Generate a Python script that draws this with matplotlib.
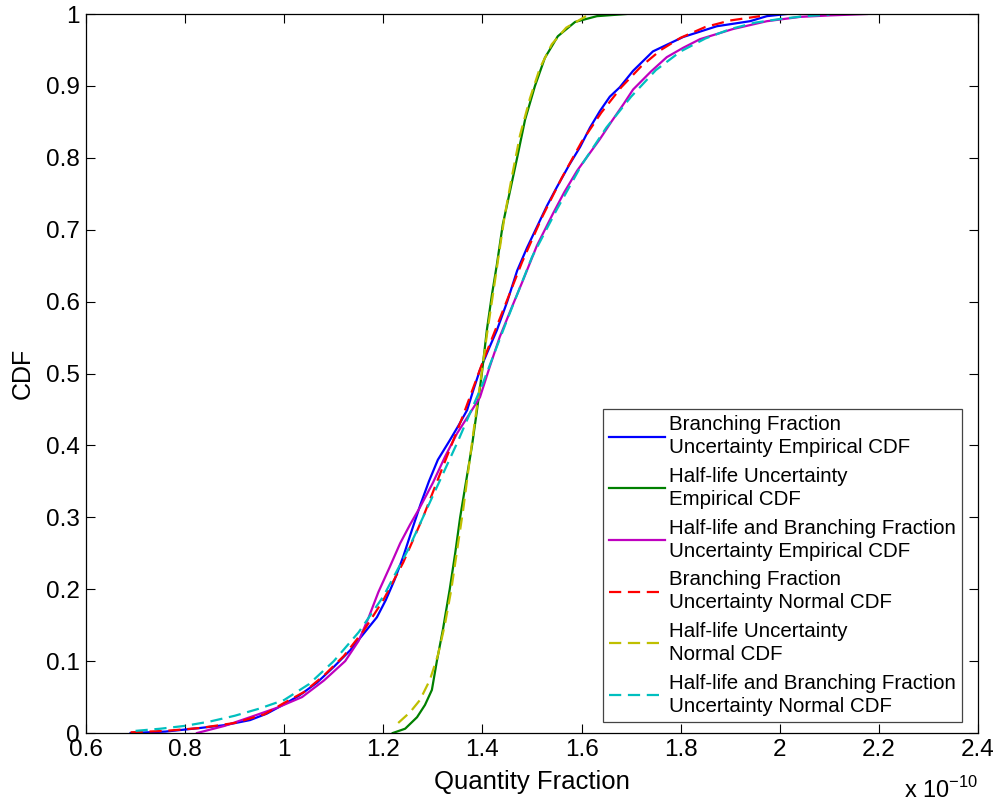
import matplotlib
matplotlib.use('Agg')
import matplotlib.pyplot as plt
from matplotlib.ticker import FuncFormatter, MultipleLocator

plt.rcParams['font.family'] = ['Liberation Sans', 'DejaVu Sans']
plt.rcParams['mathtext.fontset'] = 'custom'
plt.rcParams['mathtext.rm'] = 'Liberation Sans'

# Quantity fraction values (units of 1e-10) and CDF values
# Branching fraction uncertainty, empirical CDF
bf_emp_x = [0.690, 0.760, 0.830, 0.880, 0.931, 0.965, 0.997, 1.030, 1.066, 1.100, 1.133, 1.160,
            1.187, 1.205, 1.222, 1.240, 1.258, 1.275, 1.292, 1.310, 1.334, 1.352, 1.369, 1.383,
            1.395, 1.412, 1.429, 1.450, 1.470, 1.490, 1.510, 1.530, 1.550, 1.575, 1.597, 1.617,
            1.637, 1.657, 1.677, 1.704, 1.744, 1.805, 1.873, 1.940, 1.974, 2.014]
bf_emp_y = [0.000, 0.002, 0.007, 0.011, 0.018, 0.027, 0.039, 0.052, 0.070, 0.092, 0.115, 0.138,
            0.161, 0.185, 0.212, 0.245, 0.283, 0.318, 0.350, 0.380, 0.407, 0.428, 0.449, 0.480,
            0.505, 0.533, 0.560, 0.600, 0.643, 0.675, 0.704, 0.733, 0.759, 0.790, 0.815, 0.842,
            0.865, 0.885, 0.898, 0.921, 0.948, 0.968, 0.983, 0.990, 0.997, 1.000]

# Half-life uncertainty, empirical CDF
hl_emp_x = [1.219, 1.244, 1.268, 1.284, 1.298, 1.308, 1.320, 1.334, 1.345, 1.355, 1.367, 1.379,
            1.389, 1.399, 1.409, 1.419, 1.429, 1.441, 1.456, 1.470, 1.486, 1.506, 1.526, 1.552,
            1.587, 1.631, 1.690]
hl_emp_y = [0.000, 0.006, 0.022, 0.039, 0.060, 0.100, 0.143, 0.200, 0.250, 0.300, 0.350, 0.400,
            0.449, 0.501, 0.561, 0.609, 0.651, 0.707, 0.755, 0.800, 0.853, 0.900, 0.939, 0.969,
            0.989, 0.997, 1.000]

# Half-life and branching fraction uncertainty, empirical CDF
both_emp_x = [0.824, 0.880, 0.931, 0.985, 1.036, 1.080, 1.123, 1.150, 1.170, 1.190, 1.213, 1.234,
              1.254, 1.274, 1.300, 1.325, 1.349, 1.375, 1.395, 1.415, 1.435, 1.458, 1.482, 1.510,
              1.542, 1.565, 1.591, 1.615, 1.637, 1.660, 1.685, 1.704, 1.740, 1.772, 1.805, 1.839,
              1.905, 1.974, 2.041, 2.100, 2.176]
both_emp_y = [0.000, 0.010, 0.022, 0.035, 0.050, 0.073, 0.100, 0.128, 0.160, 0.196, 0.231, 0.264,
              0.290, 0.314, 0.348, 0.385, 0.417, 0.445, 0.467, 0.510, 0.551, 0.590, 0.630, 0.678,
              0.722, 0.752, 0.782, 0.805, 0.826, 0.850, 0.875, 0.895, 0.920, 0.940, 0.953, 0.965,
              0.979, 0.990, 0.996, 0.998, 1.000]

# Branching fraction uncertainty, normal CDF
bf_norm_x = [0.690, 0.760, 0.830, 0.900, 0.960, 1.000, 1.040, 1.080, 1.120, 1.160, 1.200, 1.240,
             1.280, 1.320, 1.360, 1.400, 1.440, 1.480, 1.520, 1.560, 1.600, 1.640, 1.680, 1.720,
             1.760, 1.800, 1.850, 1.900, 1.960]
bf_norm_y = [0.001, 0.003, 0.007, 0.014, 0.026, 0.042, 0.057, 0.080, 0.107, 0.142, 0.185, 0.237,
             0.300, 0.370, 0.440, 0.515, 0.585, 0.655, 0.717, 0.772, 0.822, 0.863, 0.898, 0.927,
             0.950, 0.967, 0.982, 0.991, 0.997]

# Half-life uncertainty, normal CDF
hl_norm_x = [1.230, 1.254, 1.274, 1.294, 1.310, 1.324, 1.337, 1.349, 1.361, 1.373, 1.385, 1.397,
             1.409, 1.421, 1.433, 1.445, 1.460, 1.476, 1.496, 1.516, 1.540, 1.569, 1.609]
hl_norm_y = [0.014, 0.029, 0.046, 0.074, 0.108, 0.150, 0.199, 0.255, 0.310, 0.373, 0.435, 0.494,
             0.554, 0.609, 0.665, 0.720, 0.776, 0.832, 0.883, 0.925, 0.958, 0.981, 0.997]

# Half-life and branching fraction uncertainty, normal CDF
both_norm_x = [0.700, 0.750, 0.800, 0.850, 0.900, 0.950, 1.000, 1.050, 1.100, 1.150, 1.200, 1.250,
               1.300, 1.350, 1.400, 1.450, 1.500, 1.550, 1.600, 1.650, 1.700, 1.750, 1.800, 1.850,
               1.900, 1.950, 2.000, 2.050, 2.100]
both_norm_y = [0.003, 0.006, 0.010, 0.016, 0.024, 0.034, 0.046, 0.068, 0.100, 0.140, 0.190, 0.255,
               0.330, 0.405, 0.485, 0.575, 0.662, 0.728, 0.790, 0.842, 0.885, 0.922, 0.948, 0.966,
               0.979, 0.988, 0.993, 0.997, 0.999]

labels = ['Branching Fraction\nUncertainty Empirical CDF',
          'Half-life Uncertainty\nEmpirical CDF',
          'Half-life and Branching Fraction\nUncertainty Empirical CDF',
          'Branching Fraction\nUncertainty Normal CDF',
          'Half-life Uncertainty\nNormal CDF',
          'Half-life and Branching Fraction\nUncertainty Normal CDF']

fig = plt.figure(figsize=(10, 8.05), dpi=100)
ax = fig.add_axes([0.086, 0.0894, 0.892, 0.8932])

lw = 1.6
dash = (5.5, 3)
ax.plot(bf_emp_x, bf_emp_y, color='#0000ff', lw=lw, label=labels[0])
ax.plot(hl_emp_x, hl_emp_y, color='#008000', lw=lw, label=labels[1])
ax.plot(both_emp_x, both_emp_y, color='#bf00bf', lw=lw, label=labels[2])
ax.plot(bf_norm_x, bf_norm_y, color='#ff0000', lw=lw, dashes=dash, label=labels[3])
ax.plot(hl_norm_x, hl_norm_y, color='#bfbf00', lw=lw, dashes=dash, label=labels[4])
ax.plot(both_norm_x, both_norm_y, color='#00bfbf', lw=lw, dashes=dash, label=labels[5])

ax.set_xlim(0.6, 2.4)
ax.set_ylim(0, 1)
ax.xaxis.set_major_locator(MultipleLocator(0.2))
ax.yaxis.set_major_locator(MultipleLocator(0.1))
ax.xaxis.set_major_formatter(FuncFormatter(lambda v, p: '%g' % round(v, 2)))
ax.yaxis.set_major_formatter(FuncFormatter(lambda v, p: '%g' % round(v, 2)))
ax.tick_params(direction='in', length=6.5, width=0.8, labelsize=17.5,
               top=True, right=True, pad=4.5)
for s in ax.spines.values():
    s.set_linewidth(0.9)

ax.set_xlabel('Quantity Fraction', fontsize=18.5, labelpad=6)
ax.set_ylabel('CDF', fontsize=18, labelpad=8)
fig.text(0.978, 0.0087, r'x 10$^{-10}$', ha='right', va='baseline', fontsize=17)

leg = ax.legend(loc='upper left', bbox_to_anchor=(0.5796, 0.4506), fontsize=14.8,
                frameon=True, fancybox=False, edgecolor='#444444', framealpha=1,
                handlelength=2.7, handletextpad=0.2, labelspacing=0.47,
                borderpad=0.3, borderaxespad=0)
leg.get_frame().set_linewidth(0.9)
for t in leg.get_texts():
    t.set_linespacing(1.27)

fig.savefig('out.png', dpi=100)
